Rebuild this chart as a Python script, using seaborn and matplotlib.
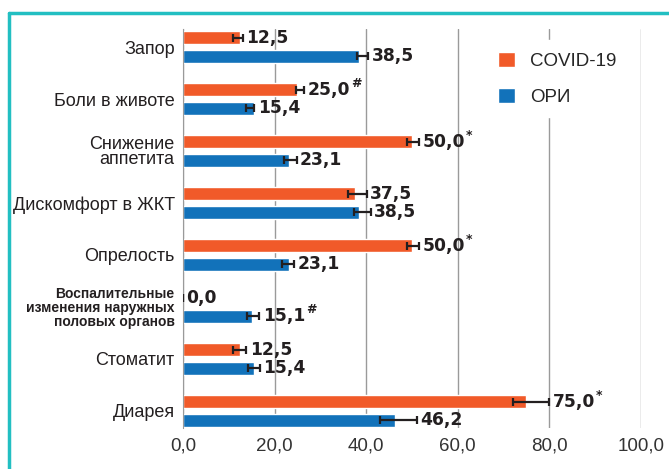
import matplotlib.pyplot as plt
import pandas as pd
import seaborn as sns
from matplotlib.lines import Line2D
from matplotlib.ticker import FixedLocator

CATEGORIES = [
    "Запор",
    "Боли в животе",
    "Снижение\nаппетита",
    "Дискомфорт в ЖКТ",
    "Опрелость",
    "Воспалительные\nизменения наружных\nполовых органов",
    "Стоматит",
    "Диарея",
]
GROUPS = ["COVID-19", "ОРИ"]
COVID = [12.5, 25.0, 50.0, 37.5, 50.0, 0.0, 12.5, 75.0]
ORI = [38.5, 15.4, 23.1, 38.5, 23.1, 15.1, 15.4, 46.2]
COVID_ERR_LO = [1.6, 0.3, 1.0, 1.5, 1.0, 0.0, 1.5, 3.0]
COVID_ERR_HI = [0.5, 1.5, 1.6, 2.6, 1.6, 0.0, 1.3, 5.0]
ORI_ERR_LO = [0.6, 1.6, 1.0, 1.2, 1.4, 1.2, 1.2, 3.2]
ORI_ERR_HI = [2.0, 0.2, 1.7, 2.5, 1.1, 1.6, 1.4, 4.8]
COVID_MARKS = ["", "#", "*", "", "*", "", "", "*"]
ORI_MARKS = ["", "", "", "", "", "#", "", ""]
X_TICKS = [0, 20, 40, 60, 80, 100]
X_TICK_LABELS = ["0,0", "20,0", "40,0", "60,0", "80,0", "100,0"]

COLORS = {"COVID-19": "#F15A29", "ОРИ": "#1272BA"}
TEXT = "#231f20"
FONT = ["Liberation Sans", "DejaVu Sans"]


def main():
    sns.set_style("white")
    plt.rcParams["font.family"] = FONT

    df = pd.DataFrame({
        "cat": CATEGORIES * 2,
        "group": [GROUPS[0]] * len(COVID) + [GROUPS[1]] * len(ORI),
        "value": COVID + ORI,
    })

    fig = plt.figure(figsize=(6.69, 4.69), dpi=100)
    ax = fig.add_axes([0.2735, 0.0874, 0.6846, 0.851])

    sns.barplot(
        data=df, y="cat", x="value", hue="group", orient="h",
        palette=COLORS, width=0.72, gap=0.3, errorbar=None,
        saturation=1, ax=ax,
    )

    errs = [(COVID, COVID_ERR_LO, COVID_ERR_HI, COVID_MARKS),
            (ORI, ORI_ERR_LO, ORI_ERR_HI, ORI_MARKS)]
    for container, (vals, lo, hi, marks) in zip(ax.containers, errs):
        ys = [p.get_y() + p.get_height() / 2 for p in container.patches]
        ax.errorbar(vals, ys, xerr=[lo, hi], fmt="none", ecolor="#231f20",
                    elinewidth=1.6, capsize=2.8, capthick=1.6, zorder=3)
        for v, h, y, m in zip(vals, hi, ys, marks):
            t = ax.annotate(f"{v:.1f}".replace(".", ","), xy=(v + h, y),
                            xytext=(2.5, 0), textcoords="offset points",
                            ha="left", va="center", fontsize=12.3,
                            fontweight="bold", color=TEXT,
                            fontfamily="DejaVu Sans")
            if m:
                ax.annotate(m, xy=(1, 0.85), xycoords=t, xytext=(0.5, 0),
                            textcoords="offset points", ha="left", va="center",
                            fontsize=9, fontweight="bold", color=TEXT,
                            fontfamily="DejaVu Sans")

    ax.set_xlim(0, 100)
    ax.set_ylim(7.33, -0.35)
    ax.xaxis.set_major_locator(FixedLocator(X_TICKS))
    ax.set_xticklabels(X_TICK_LABELS)
    ax.set_xlabel("")
    ax.set_ylabel("")
    ax.xaxis.grid(True, color="#9a9a9a", lw=1)
    ax.set_axisbelow(True)
    for s in ["top", "right", "bottom"]:
        ax.spines[s].set_visible(False)
    ax.spines["left"].set_color("#9a9a9a")
    ax.tick_params(axis="x", length=0, pad=7, labelsize=13.5, labelcolor="#333333")
    ax.tick_params(axis="y", length=0, pad=6, labelsize=13, labelcolor=TEXT)

    ylabels = ax.get_yticklabels()
    ylabels[2].set_linespacing(0.85)
    ylabels[5].set_fontsize(10)
    ylabels[5].set_fontweight("bold")
    ylabels[5].set_linespacing(1.0)

    handles, labels = ax.get_legend_handles_labels()
    ax.legend(handles, labels, loc="upper left", bbox_to_anchor=(0.643, 0.995),
              frameon=True, facecolor="white", edgecolor="white", framealpha=1,
              fontsize=13.5, handlelength=0.9, handleheight=0.9,
              labelspacing=0.95, handletextpad=0.8, borderpad=0.6)

    # teal frame
    fig.add_artist(Line2D([0.013, 0.013], [0.0, 0.972], color="#22BFC2", lw=2.5))
    fig.add_artist(Line2D([0.013, 1.0], [0.972, 0.972], color="#22BFC2", lw=2.5))

    fig.savefig("out.png", dpi=100, facecolor="white")


if __name__ == "__main__":
    main()
